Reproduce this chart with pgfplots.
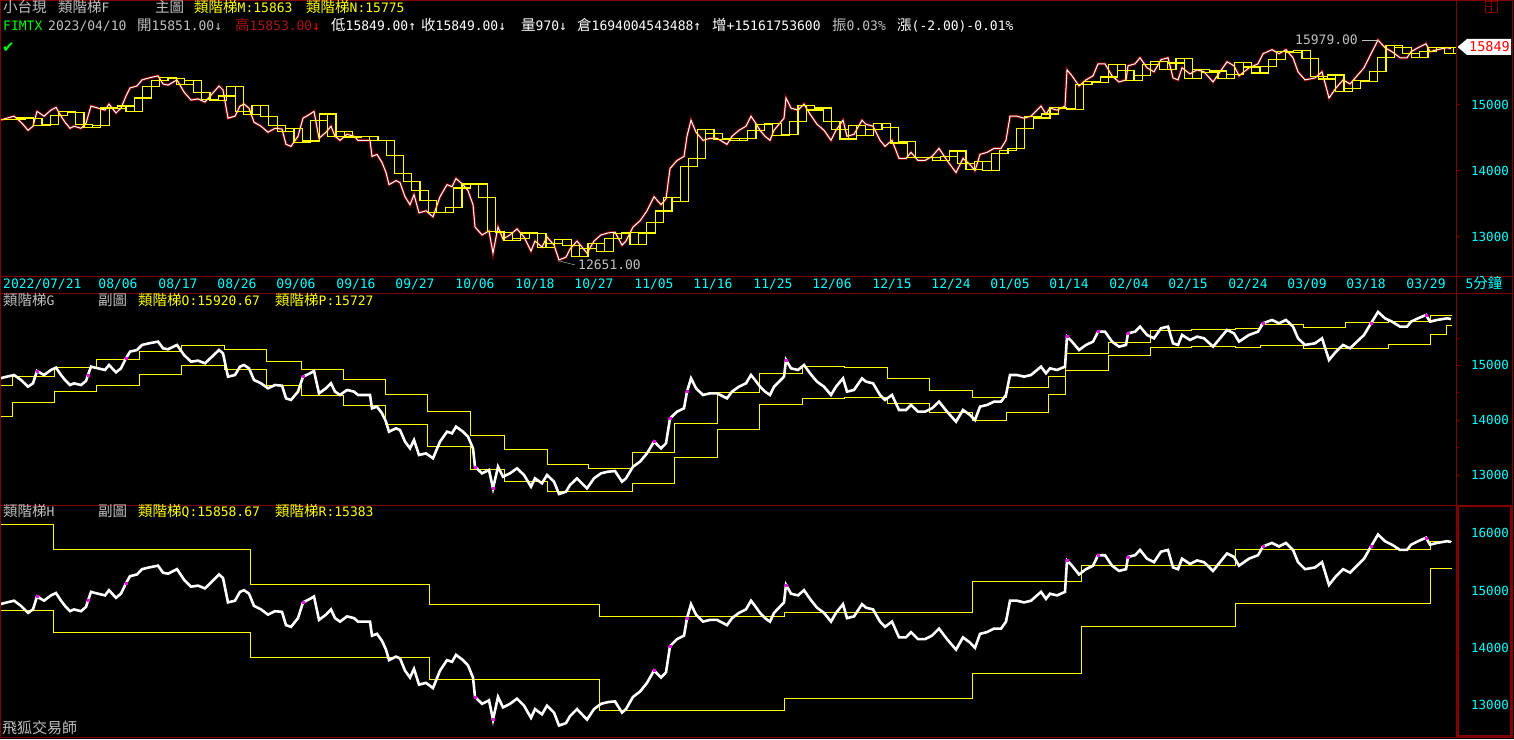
\documentclass[border=0pt]{standalone}
\usepackage{fontspec}
\setmainfont{DejaVu Sans Mono}
\newfontfamily\cjk{Noto Sans CJK TC}
\newfontfamily\djv{DejaVu Sans}
\usepackage{pgfplots}
\usepackage{pgfplotstable}
\pgfplotsset{compat=1.18}

\definecolor{dred}{RGB}{128,0,0}
\definecolor{ylw}{RGB}{255,255,0}
\definecolor{cyn}{RGB}{0,255,255}
\definecolor{lgr}{RGB}{192,192,192}
\definecolor{grn}{RGB}{0,255,0}
\definecolor{mag}{RGB}{255,0,255}
\definecolor{rd}{RGB}{255,0,0}
\definecolor{hi}{RGB}{170,20,20}

\newcommand\cj[1]{{\cjk\fontsize{14.5}{14.5}\selectfont #1}}

% close prices (x = bar position in px, p = price)
\pgfplotstableread{
x p
0 14765
7 14796
14 14826
21 14735
28 14613
33 14674
37 14899
44 14826
51 14918
56 14960
61 14826
65 14735
70 14643
74 14674
81 14643
86 14717
88 14826
91 14979
98 14948
105 14918
109 15009
116 14875
121 14948
126 15131
130 15253
137 15283
142 15375
149 15405
158 15436
163 15314
168 15296
177 15375
184 15192
191 15070
198 15088
205 15040
212 15161
219 15283
223 15222
228 14796
235 14826
240 14979
244 15009
249 14948
254 14735
261 14674
268 14583
275 14643
282 14631
286 14400
291 14370
298 14522
303 14796
310 14857
314 14899
319 14491
326 14583
331 14674
335 14522
340 14461
347 14552
354 14522
358 14461
365 14461
370 14461
372 14217
377 14248
382 14126
386 13973
389 13790
396 13851
400 13821
405 13608
410 13486
414 13638
419 13364
426 13394
433 13303
440 13608
447 13790
452 13760
456 13882
463 13790
468 13699
473 13486
475 13150
482 13029
489 13090
493 12754
498 13150
503 12967
510 13029
517 13120
524 12998
531 12785
535 12937
542 12846
547 12998
554 12876
559 12651
566 12693
570 12815
577 12937
587 12754
594 12937
601 13029
608 13059
615 13071
622 12876
626 12937
633 13150
640 13242
647 13394
654 13608
661 13486
666 13577
670 14034
677 14156
684 14217
687 14522
691 14765
696 14583
703 14461
710 14491
717 14491
727 14400
732 14522
739 14613
746 14674
751 14826
755 14735
760 14613
765 14522
770 14461
774 14613
779 14704
784 14796
786 15101
791 14948
798 14918
804 15009
810 14857
817 14704
824 14613
831 14461
836 14613
843 14765
847 14522
854 14552
862 14765
866 14704
873 14674
880 14461
885 14370
892 14461
899 14187
906 14187
911 14278
918 14156
925 14156
932 14217
939 14339
947 14156
956 13973
963 14187
970 14095
975 14004
980 14248
987 14278
994 14339
1001 14339
1006 14461
1010 14826
1017 14826
1024 14796
1031 14826
1041 14979
1046 14857
1050 14948
1057 14918
1065 14979
1067 15527
1072 15436
1079 15283
1086 15375
1093 15436
1098 15618
1105 15618
1112 15436
1119 15344
1126 15375
1128 15588
1135 15618
1140 15710
1147 15558
1154 15497
1161 15680
1168 15710
1173 15405
1178 15375
1182 15558
1190 15466
1197 15527
1204 15497
1213 15344
1220 15497
1227 15649
1234 15588
1239 15436
1249 15558
1258 15618
1263 15771
1272 15832
1279 15771
1286 15832
1293 15710
1298 15497
1305 15375
1315 15405
1322 15497
1329 15101
1336 15253
1343 15375
1350 15314
1357 15436
1364 15558
1371 15771
1378 15979
1385 15862
1392 15801
1400 15710
1407 15710
1411 15801
1418 15862
1426 15923
1430 15801
1437 15832
1447 15862
1451 15849
}\price

% 類階梯M / N (main chart)
\pgfplotstableread{
x m n
0 14780 14780
8.4 14780 14780
16.8 14800 14780
25.2 14790 14800
33.6 14680 14790
42 14700 14680
50.4 14840 14700
58.8 14900 14840
67.2 14880 14900
75.6 14700 14880
84 14660 14700
92.4 14690 14660
100.8 14950 14690
109.2 14940 14950
117.6 14980 14940
126 14900 14980
134.4 15100 14900
142.8 15270 15100
151.2 15370 15270
159.6 15410 15370
168 15400 15410
176.4 15300 15400
184.8 15360 15300
193.2 15180 15360
201.6 15080 15180
210 15060 15080
218.4 15130 15060
226.8 15270 15130
235.2 14900 15270
243.6 14850 14900
252 14990 14850
260.4 14820 14990
268.8 14680 14820
277.2 14590 14680
285.6 14640 14590
294 14430 14640
302.4 14450 14430
310.8 14760 14450
319.2 14860 14760
327.6 14520 14860
336 14600 14520
344.4 14510 14600
352.8 14520 14510
361.2 14520 14520
369.6 14460 14520
378 14460 14460
386.4 14230 14460
394.8 13960 14230
403.2 13840 13960
411.6 13700 13840
420 13550 13700
428.4 13370 13550
436.8 13370 13370
445.2 13450 13370
453.6 13740 13450
462 13800 13740
470.4 13800 13800
478.8 13600 13800
487.2 13080 13600
495.6 13070 13080
504 12950 13070
512.4 12980 12950
520.8 13060 12980
529.2 13050 13060
537.6 12840 13050
546 12900 12840
554.4 12960 12900
562.8 12870 12960
571.2 12700 12870
579.6 12830 12700
588 12900 12830
596.4 12780 12900
604.8 12970 12780
613.2 13050 12970
621.6 13070 13050
630 12890 13070
638.4 13060 12890
646.8 13220 13060
655.2 13390 13220
663.6 13590 13390
672 13530 13590
680.4 14070 13530
688.8 14190 14070
697.2 14620 14190
705.6 14560 14620
714 14470 14560
722.4 14490 14470
730.8 14460 14490
739.2 14490 14460
747.6 14610 14490
756 14700 14610
764.4 14720 14700
772.8 14530 14720
781.2 14550 14530
789.6 14740 14550
798 14990 14740
806.4 14920 14990
814.8 14950 14920
823.2 14750 14950
831.6 14620 14750
840 14480 14620
848.4 14690 14480
856.8 14530 14690
865.2 14620 14530
873.6 14710 14620
882 14660 14710
890.4 14420 14660
898.8 14440 14420
907.2 14200 14440
915.6 14200 14200
924 14200 14200
932.4 14160 14200
940.8 14220 14160
949.2 14300 14220
957.6 14110 14300
966 14020 14110
974.4 14140 14020
982.8 14010 14140
991.2 14260 14010
999.6 14310 14260
1008 14340 14310
1016.4 14640 14340
1024.8 14820 14640
1033.2 14800 14820
1041.6 14860 14800
1050 14960 14860
1058.4 14940 14960
1066.8 14930 14940
1075.2 15300 14930
1083.6 15350 15300
1092 15340 15350
1100.4 15420 15340
1108.8 15610 15420
1117.2 15520 15610
1125.6 15370 15520
1134 15440 15370
1142.4 15610 15440
1150.8 15650 15610
1159.2 15530 15650
1167.6 15630 15530
1176 15700 15630
1184.4 15400 15700
1192.8 15530 15400
1201.2 15490 15530
1209.6 15510 15490
1218 15400 15510
1226.4 15460 15400
1234.8 15640 15460
1243.2 15570 15640
1251.6 15480 15570
1260 15580 15480
1268.4 15680 15580
1276.8 15800 15680
1285.2 15790 15800
1293.6 15820 15790
1302 15700 15820
1310.4 15430 15700
1318.8 15390 15430
1327.2 15450 15390
1335.6 15200 15450
1344 15250 15200
1352.4 15370 15250
1360.8 15350 15370
1369.2 15500 15350
1377.6 15710 15500
1386 15900 15710
1394.4 15860 15900
1402.8 15780 15860
1411.2 15710 15780
1419.6 15800 15710
1428 15870 15800
1436.4 15860 15870
1444.8 15775 15860
1453.2 15863 15775
1456 15863 15775
}\stepMN

% 類階梯O / P
\pgfplotstableread{
x o
0 14643
12.6 14808
54.5 14973
96.8 15119
139.7 15259
181.6 15363
224.4 15302
266.8 15070
301.7 14936
343.1 14747
385.5 14473
427.8 14162
470.2 13723
504.2 13467
547 13193
588.9 13120
632.2 13419
674.1 13949
717 14503
759.2 14857
802.6 14985
844.1 14966
887.5 14765
929.1 14546
972.5 14418
1006.5 14601
1048.5 14802
1065.5 15222
1108.4 15424
1150.4 15649
1191.9 15661
1235.3 15680
1260.3 15753
1303.3 15698
1345.3 15789
1388.2 15814
1430.2 15921
1451.5 15921
}\stepO
\pgfplotstableread{
x p
0 14065
12.6 14327
54.5 14522
96.8 14637
139.7 14839
181.6 15003
224.4 14936
266.8 14643
301.7 14461
343.1 14278
385.5 13924
427.8 13516
470.2 13102
504.2 12888
547 12699
632.2 12846
674.1 13321
717 13833
759.2 14290
802.6 14400
844.1 14418
887.5 14308
929.1 14144
972.5 13997
1006.5 14144
1048.5 14473
1065.5 14912
1108.4 15186
1150.4 15332
1191.9 15350
1235.3 15332
1260.3 15369
1303.3 15314
1388.2 15387
1430.2 15570
1446.8 15727
1451.5 15727
}\stepP

% 類階梯Q / R
\pgfplotstableread{
x q
0 16157
53.9 15726
250.7 15111
429 14763
599 14559
784.6 14624
972 15164
1081.7 15442
1235 15726
1430 15859
1452 15859
}\stepQ
\pgfplotstableread{
x r
0 14659
53.9 14275
250.7 13840
429 13456
599 12916
784.6 13125
972 13561
1081.7 14373
1235 14780
1430 15383
1452 15383
}\stepR

% magenta highlights on the sub charts
\pgfplotstableread{
x p
37 14899
88 14826
126 15131
303 14796
475 13150
493 12754
654 13608
670 14034
687 14522
786 15101
1067 15527
1098 15618
1128 15588
1263 15771
1371 15771
1426 15923
}\hilite

\pgfplotsset{
  panel/.style={
    scale only axis, width=1456pt, xmin=0, xmax=1456,
    at={(0pt,0pt)}, anchor=south west,
    axis line style={draw=none}, clip=false,
    xtick=\empty, ytick pos=right, yticklabels={},
    tick align=outside, tick style={draw=dred, line width=0.8pt},
    major tick length=4pt, minor tick length=2.5pt,
  },
}

\begin{document}
\begin{tikzpicture}[x=1pt,y=1pt,
  txt/.style={inner sep=0pt, anchor=base west, font=\fontsize{13}{13}\selectfont},
  lbl/.style={inner sep=0pt, anchor=base east, text=cyn, font=\fontsize{12.5}{12.5}\selectfont}]
\useasboundingbox (0,0) rectangle (1514,739);
\fill[black] (0,0) rectangle (1514,739);

% ---------- main chart ----------
\begin{scope}[shift={(0pt,463pt)}]
\begin{axis}[panel, height=276pt,
  ymin=12408, ymax=16584, ytick={13000,14000,15000},
  xtick pos=bottom, minor xtick={5,12,...,1452}, minor tick length=4pt]
\addplot[dred, line width=3pt] table[x=x, y=p] {\price};
\addplot[white, line width=1pt] table[x=x, y=p] {\price};
\addplot[ylw, line width=1.2pt, const plot] table[x=x, y=m] {\stepMN};
\addplot[ylw, line width=1.2pt, const plot] table[x=x, y=n] {\stepMN};
\draw[lgr] (axis cs:1362,15979) -- (axis cs:1379,15979);
\node[txt, anchor=east, text=lgr] at (axis cs:1358,15979) {15979.00};
\draw[lgr] (axis cs:558,12640) -- (axis cs:575,12575);
\node[txt, anchor=west, text=lgr] at (axis cs:578,12575) {12651.00};
\node[lbl] at ([xshift=53pt,yshift=-4.5pt]axis cs:1456,15000) {15000};
\node[lbl] at ([xshift=53pt,yshift=-4.5pt]axis cs:1456,14000) {14000};
\node[lbl] at ([xshift=53pt,yshift=-4.5pt]axis cs:1456,13000) {13000};
\end{axis}
\end{scope}

% ---------- sub chart G ----------
\begin{scope}[shift={(0pt,234pt)}]
\begin{axis}[panel, height=212pt,
  ymin=12450, ymax=16325, ytick={13000,14000,15000},
  minor ytick={13500,14500,15500}]
\addplot[ylw, line width=0.9pt, const plot] table[x=x, y=o] {\stepO};
\addplot[ylw, line width=0.9pt, const plot] table[x=x, y=p] {\stepP};
\addplot[white, line width=2.6pt] table[x=x, y=p] {\price};
\addplot[only marks, mark=square*, mark size=1pt, mag] table[x=x, y=p] {\hilite};
\node[lbl] at ([xshift=53pt,yshift=-4.5pt]axis cs:1456,15000) {15000};
\node[lbl] at ([xshift=53pt,yshift=-4.5pt]axis cs:1456,14000) {14000};
\node[lbl] at ([xshift=53pt,yshift=-4.5pt]axis cs:1456,13000) {13000};
\end{axis}
\end{scope}

% ---------- sub chart H ----------
\begin{scope}[shift={(0pt,2pt)}]
\begin{axis}[panel, height=232pt,
  ymin=12451, ymax=16493, ytick={13000,14000,15000,16000},
  minor y tick num=3]
\addplot[ylw, line width=0.9pt, const plot] table[x=x, y=q] {\stepQ};
\addplot[ylw, line width=0.9pt, const plot] table[x=x, y=r] {\stepR};
\addplot[white, line width=2.6pt] table[x=x, y=p] {\price};
\addplot[only marks, mark=square*, mark size=1pt, mag] table[x=x, y=p] {\hilite};
\node[lbl] at ([xshift=53pt,yshift=-4.5pt]axis cs:1456,16000) {16000};
\node[lbl] at ([xshift=53pt,yshift=-4.5pt]axis cs:1456,15000) {15000};
\node[lbl] at ([xshift=53pt,yshift=-4.5pt]axis cs:1456,14000) {14000};
\node[lbl] at ([xshift=53pt,yshift=-4.5pt]axis cs:1456,13000) {13000};
\end{axis}
\end{scope}

% ---------- frame ----------
\draw[dred, line width=1pt] (0.5,1.7) rectangle (1512,738.5);
\draw[dred, line width=1pt] (1456.5,1.7) -- (1456.5,738.5);
\draw[dred, line width=1pt] (0,462.5) -- (1512,462.5);
\draw[dred, line width=1pt] (0,445.5) -- (1512,445.5);
\draw[dred, line width=1pt] (0,233.5) -- (1512,233.5);
\draw[dred, line width=2.5pt] (1458,2.5) rectangle (1511,233);
\draw[dred, line width=0.8pt] (1485,727) rectangle (1497,738) (1491,727) -- (1491,738) (1485,732.5) -- (1491,732.5);

% price tag
\fill[white] (1457.5,692) -- (1467,700) -- (1511,700) -- (1511,684) -- (1467,684) -- cycle;
\node[inner sep=0pt, anchor=base east, text=rd, font=\fontsize{13.5}{13.5}\selectfont] at (1510,687) {15849};

% ---------- header texts ----------
\node[txt, text=lgr] at (3,726) {\cj{小台現}};
\node[txt, text=lgr] at (58,726) {\cj{類階梯}F};
\node[txt, text=lgr] at (155,726) {\cj{主圖}};
\node[txt, text=ylw] at (194,726) {\cj{類階梯}M:15863};
\node[txt, text=ylw] at (306,726) {\cj{類階梯}N:15775};

\node[txt, text=grn] at (3,708) {FIMTX};
\node[txt, text=lgr] at (48,708) {2023/04/10};
\node[txt, text=lgr] at (137,708) {\cj{開}15851.00↓};
\node[txt, text=hi] at (235,708) {\cj{高}15853.00\textcolor{rd}{↓}};
\node[txt, text=white] at (331,708) {\cj{低}15849.00↑};
\node[txt, text=white] at (421,708) {\cj{收}15849.00↓};
\node[txt, text=white] at (521,708) {\cj{量}970↓};
\node[txt, text=white] at (577,708) {\cj{倉}1694004543488↑};
\node[txt, text=white] at (712,708) {\cj{增}+15161753600};
\node[txt, text=lgr] at (832,708) {\cj{振}0.03\%};
\node[txt, text=white] at (897,708) {\cj{漲}(-2.00)-0.01\%};
\node[inner sep=0pt, anchor=base west, text=grn, font=\djv\fontsize{15}{15}\selectfont] at (2,686) {✔};

\node[txt, text=lgr] at (3,433) {\cj{類階梯}G};
\node[txt, text=lgr] at (98,433) {\cj{副圖}};
\node[txt, text=ylw] at (138,433) {\cj{類階梯}O:15920.67};
\node[txt, text=ylw] at (275,433) {\cj{類階梯}P:15727};

\node[txt, text=lgr] at (3,222) {\cj{類階梯}H};
\node[txt, text=lgr] at (98,222) {\cj{副圖}};
\node[txt, text=ylw] at (138,222) {\cj{類階梯}Q:15858.67};
\node[txt, text=ylw] at (275,222) {\cj{類階梯}R:15383};

\node[txt, text=lgr] at (2,6) {{\cjk\fontsize{15}{15}\selectfont 飛狐交易師}};

% ---------- date labels ----------
\begin{scope}[every node/.style={inner sep=0pt, anchor=base, text=cyn, font=\fontsize{13}{13}\selectfont}]
\node[anchor=base west] at (3,450) {2022/07/21};
\foreach \xx/\dd in {118/{08/06},178/{08/17},237/{08/26},296/{09/06},356/{09/16},415/{09/27},475/{10/06},535/{10/18},594/{10/27},654/{11/05},713/{11/16},773/{11/25},832/{12/06},892/{12/15},951/{12/24},1010/{01/05},1069/{01/14},1129/{02/04},1188/{02/15},1248/{02/24},1307/{03/09},1366/{03/18},1426/{03/29}}
  \node at (\xx,450) {\dd};
\node at (1484,450) {5\cj{分鐘}};
\end{scope}
\end{tikzpicture}
\end{document}
